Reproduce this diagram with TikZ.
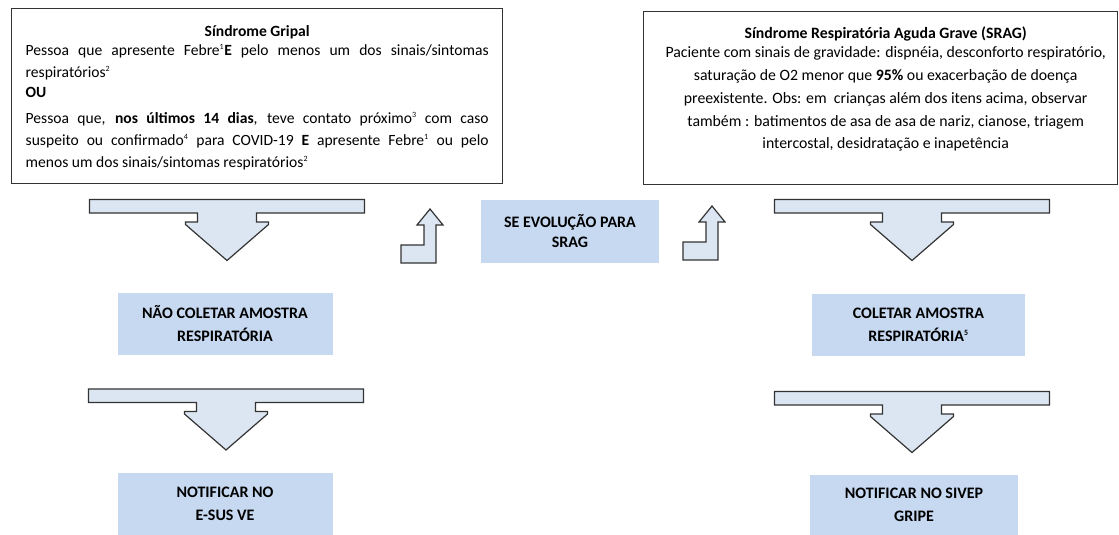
\documentclass[tikz,border=0pt]{standalone}
\usepackage{fontspec}
\setmainfont{Carlito}
\usetikzlibrary{positioning}

\definecolor{boxblue}{HTML}{C6D9F1}
\definecolor{arrowfill}{HTML}{DCE6F2}
\definecolor{linegray}{HTML}{333333}

\newcommand{\expo}[1]{\textsuperscript{\fontsize{8}{8}\selectfont #1}}

\tikzset{
	card/.style={draw=linegray, line width=1.4pt, rectangle, inner sep=0pt},
	cardtext/.style={inner sep=0pt, font=\fontsize{15.6}{22}\selectfont},
	stepbox/.style={fill=boxblue, rectangle, inner sep=0pt, align=center, font=\bfseries\fontsize{16}{23}\selectfont},
	blockarrow/.style={draw=linegray, fill=arrowfill, line width=1.2pt},
	pics/downarrow/.style={code={
		\draw[blockarrow] (-137.5,0) -- (137.5,0) -- (137.5,13.5) -- (29.5,13.5) -- (29.5,22.5) -- (41.5,22.5) -- (41.5,25) -- (0,61) -- (-41.5,25) -- (-41.5,22.5) -- (-29.5,22.5) -- (-29.5,13.5) -- (-137.5,13.5) -- cycle;
	}},
	pics/bentarrow/.style={code={
		\draw[blockarrow] (0,0) -- (35,0) -- (35,-38) -- (42,-38) -- (29,-54) -- (16,-38) -- (23,-38) -- (23,-18) -- (0,-18) -- cycle;
	}},
}

\begin{document}
\begin{tikzpicture}[x=1pt, y=-1pt]
	\useasboundingbox (0,0) rectangle (1119,535);

	\node[card, minimum width=491pt, minimum height=175pt, anchor=north west] (gripal) at (11,8) {};
	\node[cardtext, text width=463pt, align=justify, below=17pt of gripal.north] (gripaltxt) {%
		\makebox[\linewidth]{\bfseries Síndrome Gripal}\\[-3pt]
		Pessoa que apresente Febre\expo{1}\textbf{E} pelo menos um dos sinais/sintomas\linebreak
		respiratórios\expo{2}\\[-2pt]
		\textbf{OU}\\[4pt]
		Pessoa que, \textbf{nos últimos 14 dias}, teve contato próximo\expo{3} com caso\linebreak
		suspeito ou confirmado\expo{4} para COVID-19 \textbf{E} apresente Febre\expo{1} ou pelo\linebreak
		menos um dos sinais/sintomas respiratórios\expo{2}};

	\node[card, minimum width=474pt, minimum height=173pt, anchor=north west] (srag) at (643,11) {};
	\node[cardtext, font=\fontsize{15.8}{22.7}\selectfont, align=center, below=16pt of srag.north, xshift=5pt] (sragtxt) {%
		\textbf{Síndrome Respiratória Aguda Grave (SRAG)}\\[-3.7pt]
		Paciente com sinais de gravidade: dispnéia, desconforto respiratório,\\
		saturação de O2 menor que \textbf{95\%} ou exacerbação de doença\\
		preexistente. Obs: em\ \ crianças além dos itens acima, observar\\
		também : batimentos de asa de asa de nariz, cianose, triagem\\
		intercostal, desidratação e inapetência};

	\pic at (227,199.5) {downarrow};
	\pic at (912,199.5) {downarrow};
	\pic at (226,389) {downarrow};
	\pic at (912,391.5) {downarrow};

	\pic at (401,263) {bentarrow};
	\pic at (683,260) {bentarrow};

	\node[stepbox, minimum width=178pt, minimum height=63pt, font=\bfseries\fontsize{16}{20}\selectfont] (evolucao) at (570,231.5) {SE EVOLUÇÃO PARA\\SRAG};

	\node[stepbox, minimum width=215pt, minimum height=62pt] (naocoletar) at (225,324) {NÃO COLETAR AMOSTRA\\RESPIRATÓRIA};
	\node[stepbox, minimum width=213pt, minimum height=62pt] (coletar) at (918.5,325) {COLETAR AMOSTRA\\RESPIRATÓRIA\expo{5}};

	\node[stepbox, minimum width=215pt, minimum height=62pt] (esus) at (225,504) {NOTIFICAR NO\\E-SUS VE};
	\node[stepbox, minimum width=208pt, minimum height=60pt] (sivep) at (914,505) {NOTIFICAR NO SIVEP\\GRIPE};
\end{tikzpicture}
\end{document}
